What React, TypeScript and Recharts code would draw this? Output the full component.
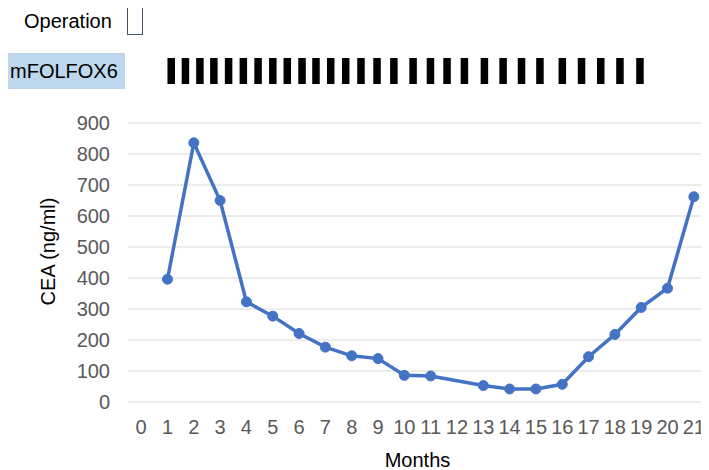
import React from "react";
import {
  LineChart,
  Line,
  XAxis,
  YAxis,
  CartesianGrid,
  ScatterChart,
  Scatter,
} from "recharts";

const monthTicks = [0, 1, 2, 3, 4, 5, 6, 7, 8, 9, 10, 11, 12, 13, 14, 15, 16, 17, 18, 19, 20, 21];
const months = [1, 2, 3, 4, 5, 6, 7, 8, 9, 10, 11, 13, 14, 15, 16, 17, 18, 19, 20, 21];
const ceaValues = [396, 836, 650, 323, 277, 221, 177, 149, 140, 86, 84, 53, 42, 42, 57, 146, 218, 305, 367, 662];
const yTicks = [0, 100, 200, 300, 400, 500, 600, 700, 800, 900];
const cycleStarts = [
  1.0, 1.54, 2.09, 2.62, 3.18, 3.74, 4.3, 4.86, 5.41, 5.97, 6.5, 7.06, 7.63, 8.21, 8.82,
  9.46, 10.19, 10.85, 11.48, 12.14, 12.9, 13.61, 14.31, 15.01, 15.86, 16.59, 17.32, 18.05, 18.81,
];
const cycleLength = 0.285;

const data = months.map((m, i) => ({ month: m, cea: ceaValues[i] }));
const cycleData = cycleStarts.map((s) => ({ month: s + cycleLength / 2, row: 0.5 }));

const FONT = "'Liberation Sans', Arial, sans-serif";
const W = 701;
const H = 462;

const CycleShape = (props: any) => {
  const { cx, cy } = props;
  if (cx == null || cy == null) return null;
  return <rect x={cx - 3.75} y={cy - 13} width={7.5} height={26} fill="#000" />;
};

export default function App() {
  return (
    <div style={{ position: "relative", width: W, height: H, fontFamily: FONT }}>
      <div style={{ position: "absolute", left: 0, top: 0 }}>
        <LineChart
          width={W}
          height={H}
          data={data}
          margin={{ top: 115, right: 2, bottom: 0, left: 0 }}
        >
          <CartesianGrid vertical={false} stroke="#D9D9D9" strokeWidth={1} />
          <XAxis
            dataKey="month"
            type="number"
            domain={[-0.5, 21.5]}
            ticks={monthTicks}
            interval={0}
            axisLine={false}
            tickLine={false}
            tickSize={0}
            tickMargin={18}
            height={68}
            tick={{ fill: "#595959", fontSize: 20, fontFamily: FONT }}
            label={{
              value: "Months",
              position: "insideBottom",
              offset: 3,
              fill: "#000",
              fontSize: 20,
              fontFamily: FONT,
            }}
          />
          <YAxis
            type="number"
            domain={[0, 900]}
            ticks={yTicks}
            interval={0}
            axisLine={false}
            tickLine={false}
            tickSize={0}
            tickMargin={18}
            width={120}
            tick={{ fill: "#595959", fontSize: 20, fontFamily: FONT }}
            label={{
              content: (props: any) => {
                const vb = props.viewBox || { x: 0, y: 0, width: 120, height: 279 };
                const cx = vb.x + 40;
                const cy = vb.y + vb.height / 2 - 11;
                return (
                  <text
                    x={cx}
                    y={cy}
                    transform={`rotate(-90, ${cx}, ${cy})`}
                    textAnchor="middle"
                    dominantBaseline="central"
                    fill="#000"
                    fontSize={20}
                    fontFamily={FONT}
                  >
                    CEA (ng/ml)
                  </text>
                );
              },
            }}
          />
          <Line
            type="linear"
            dataKey="cea"
            stroke="#4472C4"
            strokeWidth={3.5}
            dot={{ r: 5, fill: "#4472C4", stroke: "#4472C4", strokeWidth: 1 }}
            activeDot={false}
            isAnimationActive={false}
          />
        </LineChart>
      </div>
      <div style={{ position: "absolute", left: 0, top: 0 }}>
        <ScatterChart
          width={W}
          height={80}
          margin={{ top: 50, right: 2, bottom: 4, left: 120 }}
        >
          <XAxis dataKey="month" type="number" domain={[-0.5, 21.5]} hide />
          <YAxis dataKey="row" type="number" domain={[0, 1]} hide />
          <Scatter
            data={cycleData}
            shape={<CycleShape />}
            isAnimationActive={false}
          />
        </ScatterChart>
      </div>
      <div
        style={{
          position: "absolute",
          left: 16,
          top: 1,
          fontSize: 20,
          lineHeight: "24px",
          color: "#000",
          fontFamily: FONT,
        }}
      >
        Operation
      </div>
      <div
        style={{
          position: "absolute",
          left: 119,
          top: -5,
          width: 16,
          height: 32,
          border: "1.5px solid #44546A",
          boxSizing: "border-box",
        }}
      />
      <div
        style={{
          position: "absolute",
          left: -8,
          top: 45,
          width: 125,
          height: 36,
          background: "#BDD7EE",
          fontSize: 20,
          lineHeight: "36px",
          color: "#000",
          fontFamily: FONT,
          paddingLeft: 10,
          boxSizing: "border-box",
        }}
      >
        mFOLFOX6
      </div>
    </div>
  );
}
